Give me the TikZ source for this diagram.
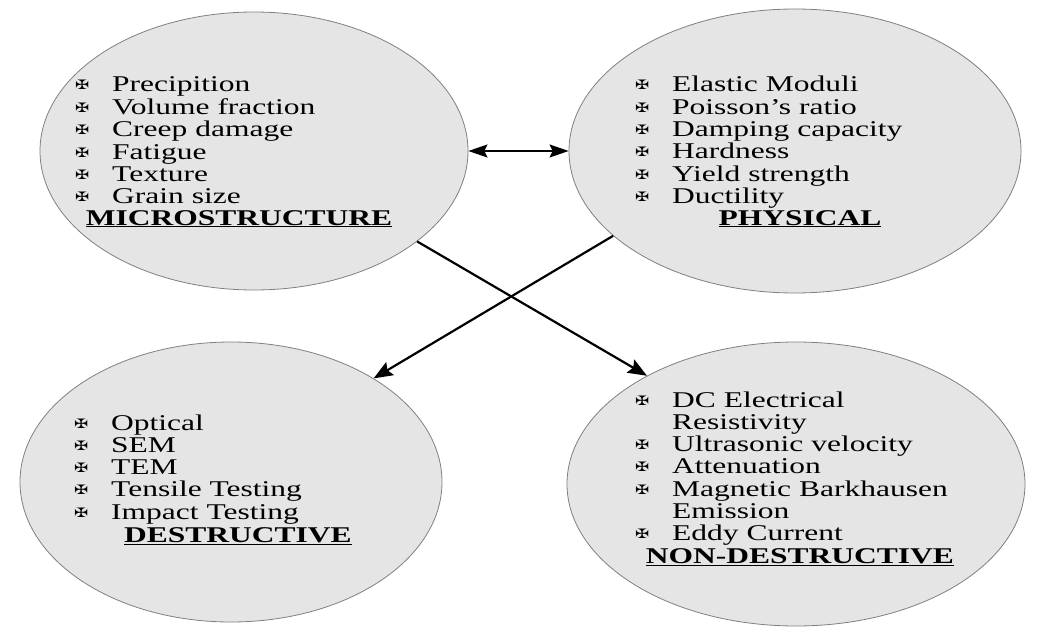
\documentclass[tikz,border=0pt]{standalone}
\usepackage{fontspec}
\setmainfont{Liberation Serif}[FakeStretch=1.4]
\newfontfamily\symfont{DejaVu Sans}[FakeStretch=1.3]
\usetikzlibrary{shapes.geometric,arrows.meta}
\newcommand\bulx{\makebox[37pt][l]{\raisebox{2pt}{\fontsize{13}{13}\symfont ✠}}}
\newcommand\indx{\makebox[37pt]{}}
\tikzset{
  blob/.style={ellipse, draw=black!50, fill=black!10, line width=0.8pt, inner sep=0pt},
  items/.style={anchor=base west, inner sep=0pt, font=\fontsize{22.5}{22.3}\selectfont},
  head/.style={anchor=base, inner sep=0pt, font=\fontsize{22.5}{22.3}\selectfont\bfseries},
  conn/.style={line width=2.2pt, -{Stealth[length=19pt,width=15pt,inset=3pt]}},
  dconn/.style={line width=1.6pt, {Stealth[length=19pt,width=13pt,inset=3pt]}-{Stealth[length=19pt,width=13pt,inset=3pt]}}
}
\begin{document}
\begin{tikzpicture}[x=1pt,y=-1pt]
\useasboundingbox[fill=white] (0,0) rectangle (1038,639);
\node[blob, minimum width=428pt, minimum height=278pt] (e1) at (254,151) {};
\node[blob, minimum width=452pt, minimum height=284pt] (e2) at (795,151) {};
\node[blob, minimum width=422pt, minimum height=280pt] (e3) at (231,482) {};
\node[blob, minimum width=458pt, minimum height=284pt] (e4) at (796,484) {};

\node[items] (t1) at (75,92) {\begin{tabular}[t]{@{}l@{}}
\bulx Precipition\\ \bulx Volume fraction\\ \bulx Creep damage\\ \bulx Fatigue\\ \bulx Texture\\ \bulx Grain size
\end{tabular}};
\node[head] (h1) at (239,225) {\underline{MICROSTRUCTURE}};

\node[items] (t2) at (635,92) {\begin{tabular}[t]{@{}l@{}}
\bulx Elastic Moduli\\ \bulx Poisson’s ratio\\ \bulx Damping capacity\\ \bulx Hardness\\ \bulx Yield strength\\ \bulx Ductility
\end{tabular}};
\node[head] (h2) at (800,225) {\underline{PHYSICAL}};

\node[items] (t3) at (74,430) {\begin{tabular}[t]{@{}l@{}}
\bulx Optical\\ \bulx SEM\\ \bulx TEM\\ \bulx Tensile Testing\\ \bulx Impact Testing
\end{tabular}};
\node[head] (h3) at (238,542) {\underline{DESTRUCTIVE}};

\node[items] (t4) at (635,407) {\begin{tabular}[t]{@{}l@{}}
\bulx DC Electrical\\ \indx Resistivity\\ \bulx Ultrasonic velocity\\ \bulx Attenuation\\ \bulx Magnetic Barkhausen\\ \indx Emission\\ \bulx Eddy Current
\end{tabular}};
\node[head] (h4) at (800,563) {\underline{NON-DESTRUCTIVE}};

\draw[dconn] (e1.0) -- (e2.180);
\draw[conn] (e1.-29) -- (e4.144);
\draw[conn] (e2.-155) -- (e3.36);
\end{tikzpicture}
\end{document}
